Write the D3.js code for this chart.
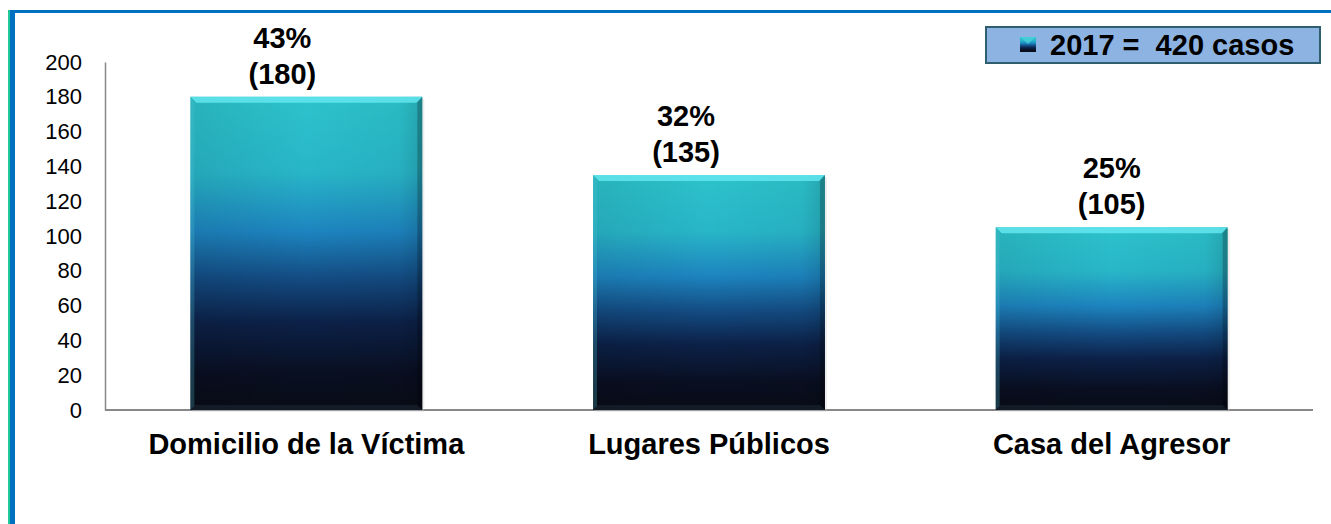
<!DOCTYPE html>
<html>
<head>
<meta charset="utf-8">
<script src="https://cdn.jsdelivr.net/npm/d3@7"></script>
<style>
  html, body { margin: 0; padding: 0; background: #fff; }
  svg { display: block; font-family: Arial, "Liberation Sans", sans-serif; }
</style>
</head>
<body>
<div id="chart"></div>
<script>
// Chart data
var categories = ["Domicilio de la Víctima", "Lugares Públicos", "Casa del Agresor"];
var values = [180, 135, 105];
var percents = ["43%", "32%", "25%"];
var yTicks = [0, 20, 40, 60, 80, 100, 120, 140, 160, 180, 200];
var legendLabel = "2017 =  420 casos";

var attrs = {
  svgWidth: 1331,
  svgHeight: 524,
  plotLeft: 105,
  plotRight: 1313,
  plotTop: 62,
  plotBottom: 410,
  labelShift: [-24, -23, 0],   // value labels sit a bit left on the first two bars
  textFill: '#000',
  bigFont: 29,
  tickFont: 22
};

var svg = d3.select('#chart').append('svg')
  .attr('width', attrs.svgWidth)
  .attr('height', attrs.svgHeight);

var defs = svg.append('defs');

// bar gradient (teal top -> blue -> navy -> almost black)
var grad = defs.append('linearGradient')
  .attr('id', 'barGrad')
  .attr('x1', 0).attr('y1', 0).attr('x2', 0).attr('y2', 1);
[[0, '#2cc3cb'], [0.24, '#28b6c8'], [0.43, '#1d84bf'], [0.58, '#134b82'], [0.72, '#0c2148'], [0.88, '#090f22'], [1, '#080c16']]
  .forEach(function (s) { grad.append('stop').attr('offset', s[0]).attr('stop-color', s[1]); });

// darker side shading
var side = defs.append('linearGradient')
  .attr('id', 'sideGrad')
  .attr('x1', 0).attr('y1', 0).attr('x2', 1).attr('y2', 0);
side.append('stop').attr('offset', 0).attr('stop-color', '#000').attr('stop-opacity', 0.08);
side.append('stop').attr('offset', 0.5).attr('stop-color', '#000').attr('stop-opacity', 0);
side.append('stop').attr('offset', 0.9).attr('stop-color', '#000').attr('stop-opacity', 0.04);
side.append('stop').attr('offset', 1).attr('stop-color', '#000').attr('stop-opacity', 0.15);

// frame lines
svg.append('rect').attr('x', 8).attr('y', 10).attr('width', 2).attr('height', attrs.svgHeight - 10).attr('fill', '#20c997');
svg.append('rect').attr('x', 10).attr('y', 10).attr('width', 5).attr('height', attrs.svgHeight - 10).attr('fill', '#0070c0');
svg.append('rect').attr('x', 10).attr('y', 10).attr('width', attrs.svgWidth - 10).attr('height', 3).attr('fill', '#0070c0');

// scales
var x = d3.scaleBand()
  .domain(categories)
  .range([attrs.plotLeft, attrs.plotRight])
  .paddingInner(0.424)
  .paddingOuter(0.212);

var y = d3.scaleLinear()
  .domain([0, 200])
  .range([attrs.plotBottom, attrs.plotTop]);

// y axis
var yAxis = svg.append('g')
  .attr('transform', 'translate(' + attrs.plotLeft + ',0)')
  .call(d3.axisLeft(y).tickValues(yTicks).tickSize(0).tickPadding(23));
yAxis.select('.domain').attr('stroke', '#888').attr('stroke-width', 1.5);
yAxis.selectAll('text')
  .attr('font-size', attrs.tickFont)
  .attr('fill', attrs.textFill)
  .attr('font-family', 'Arial, "Liberation Sans", sans-serif');

// x baseline
svg.append('line')
  .attr('x1', attrs.plotLeft).attr('x2', attrs.plotRight)
  .attr('y1', attrs.plotBottom).attr('y2', attrs.plotBottom)
  .attr('stroke', '#888').attr('stroke-width', 2);

// bars
var bars = svg.append('g').selectAll('g.bar')
  .data(values)
  .enter().append('g').attr('class', 'bar');

bars.append('rect')
  .attr('x', function (d, i) { return x(categories[i]) + 2; })
  .attr('y', function (d) { return y(d) + 2; })
  .attr('width', x.bandwidth())
  .attr('height', function (d) { return y(0) - y(d); })
  .attr('fill', '#ccc').attr('opacity', 0.35);

bars.append('rect')
  .attr('x', function (d, i) { return x(categories[i]); })
  .attr('y', function (d) { return y(d); })
  .attr('width', x.bandwidth())
  .attr('height', function (d) { return y(0) - y(d); })
  .attr('fill', 'url(#barGrad)');

bars.append('rect')
  .attr('x', function (d, i) { return x(categories[i]); })
  .attr('y', function (d) { return y(d); })
  .attr('width', x.bandwidth())
  .attr('height', function (d) { return y(0) - y(d); })
  .attr('fill', 'url(#sideGrad)');

// bevel top edge
bars.append('polygon')
  .attr('points', function (d, i) {
    var x0 = x(categories[i]), x1 = x0 + x.bandwidth(), y0 = y(d);
    return [[x0, y0], [x1, y0], [x1 - 6, y0 + 6], [x0 + 6, y0 + 6]].join(' ');
  })
  .attr('fill', '#64e6ee').attr('opacity', 0.85);
// bevel left edge
bars.append('polygon')
  .attr('points', function (d, i) {
    var x0 = x(categories[i]), y0 = y(d), yb = y(0);
    return [[x0, y0], [x0, yb], [x0 + 4, yb - 4], [x0 + 4, y0 + 6]].join(' ');
  })
  .attr('fill', '#4fc6d6').attr('opacity', 0.25);
// bevel right edge
bars.append('polygon')
  .attr('points', function (d, i) {
    var x0 = x(categories[i]), x1 = x0 + x.bandwidth(), y0 = y(d), yb = y(0);
    return [[x1, y0], [x1, yb], [x1 - 5, yb - 5], [x1 - 5, y0 + 6]].join(' ');
  })
  .attr('fill', '#000').attr('opacity', 0.22);
// bevel bottom edge
bars.append('polygon')
  .attr('points', function (d, i) {
    var x0 = x(categories[i]), x1 = x0 + x.bandwidth(), yb = y(0);
    return [[x0, yb], [x1, yb], [x1 - 5, yb - 5], [x0 + 4, yb - 5]].join(' ');
  })
  .attr('fill', '#2a3a4a').attr('opacity', 0.35);

// value labels
bars.append('text')
  .attr('x', function (d, i) { return x(categories[i]) + x.bandwidth() / 2 + attrs.labelShift[i]; })
  .attr('y', function (d) { return y(d) - 49; })
  .attr('text-anchor', 'middle')
  .attr('font-size', attrs.bigFont).attr('font-weight', 'bold')
  .attr('fill', attrs.textFill)
  .text(function (d, i) { return percents[i]; });

bars.append('text')
  .attr('x', function (d, i) { return x(categories[i]) + x.bandwidth() / 2 + attrs.labelShift[i]; })
  .attr('y', function (d) { return y(d) - 13; })
  .attr('text-anchor', 'middle')
  .attr('font-size', attrs.bigFont).attr('font-weight', 'bold')
  .attr('fill', attrs.textFill)
  .text(function (d) { return '(' + d + ')'; });

// category labels
svg.append('g').selectAll('text')
  .data(categories)
  .enter().append('text')
  .attr('x', function (d) { return x(d) + x.bandwidth() / 2; })
  .attr('y', 454)
  .attr('text-anchor', 'middle')
  .attr('font-size', attrs.bigFont).attr('font-weight', 'bold')
  .attr('fill', attrs.textFill)
  .text(function (d) { return d; });

// legend
var legend = svg.append('g');
legend.append('rect')
  .attr('x', 986).attr('y', 27).attr('width', 334).attr('height', 36)
  .attr('fill', '#8db3e2').attr('stroke', '#2f5f6e').attr('stroke-width', 2);
legend.append('rect')
  .attr('x', 1020).attr('y', 37).attr('width', 16).attr('height', 15)
  .attr('fill', 'url(#barGrad)');
legend.append('polygon')
  .attr('points', '1020,37 1036,37 1028,44')
  .attr('fill', '#4fd3dc').attr('opacity', 0.7);
legend.append('text')
  .attr('x', 1050).attr('y', 55)
  .attr('font-size', attrs.bigFont).attr('font-weight', 'bold')
  .attr('fill', attrs.textFill)
  .attr('xml:space', 'preserve')
  .style('white-space', 'pre')
  .text(legendLabel);
</script>
</body>
</html>
